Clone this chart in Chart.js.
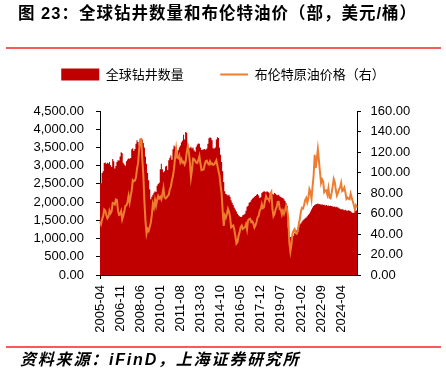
<!DOCTYPE html>
<html><head><meta charset="utf-8">
<script src="https://cdn.jsdelivr.net/npm/chart.js@4.4.1/dist/chart.umd.min.js"></script>
<style>
html,body{margin:0;padding:0;background:#fff;}
#wrap{position:relative;width:446px;height:375px;overflow:hidden;background:#fff;}
#c{position:absolute;left:0;top:0;}
.rule{position:absolute;left:6px;width:435px;height:2px;background:#f25c5c;}
#title{position:absolute;left:18px;top:3px;font-weight:bold;font-size:16.5px;line-height:20px;font-family:"Liberation Sans","Noto Sans CJK SC",sans-serif;letter-spacing:1px;white-space:nowrap;color:#000;}
#src{position:absolute;left:20px;top:350px;font-weight:bold;font-style:italic;font-size:16px;line-height:20px;font-family:"Liberation Sans","Noto Sans CJK SC",sans-serif;letter-spacing:1.8px;white-space:nowrap;color:#000;}
</style></head>
<body><div id="wrap"><canvas id="c" width="446" height="375"></canvas>
<div id="title">图 23：全球钻井数量和布伦特油价（部，美元/桶）</div>
<div class="rule" style="top:47px"></div>
<div class="rule" style="top:346px"></div>
<div id="src">资料来源：iFinD，上海证券研究所</div>
</div>
<script>
// ---- data ----
const startYear = 2005, startMonth = 4;
const xTickLabels = ['2005-04','2006-11','2008-06','2010-01','2011-08','2013-03','2014-10','2016-05','2017-12','2019-07','2021-02','2022-09','2024-04'];
const leftTicks = [0,500,1000,1500,2000,2500,3000,3500,4000,4500];
const rightTicks = [0,20,40,60,80,100,120,140,160];
const rigCount = [
2540,2520,2800,2850,3070,3090,3050,3080,3060,3100,3010,2960,3180,3120,2920,2990,3100,3150,3140,3250,
3370,3340,3080,3030,3000,3120,3170,3200,3190,3210,3450,3480,3400,3460,3600,3700,3650,3560,3700,3740,
3720,3620,3500,3250,3050,2800,2600,2350,2080,2150,2200,2260,2300,2280,2450,2500,2530,2900,3050,2900,
2820,2850,2980,3000,2880,3150,3220,3280,3160,3450,3555,3520,3330,3310,3420,3500,3550,3640,3690,3850,
3720,3925,3900,3600,3470,3490,3520,3470,3500,3420,3380,3520,3580,3610,3600,3500,3430,3440,3450,3460,
3440,3470,3600,3750,3780,3760,3700,3480,3470,3500,3720,3780,3760,3500,3300,3100,2850,2550,2300,2220,
2210,2180,2200,2150,2050,1980,1920,1850,1800,1740,1680,1640,1610,1590,1600,1640,1650,1680,1760,1870,
1900,1980,2000,2050,2090,2120,2150,2170,2200,2220,2180,2110,2130,2250,2280,2300,2290,2270,2300,2280,
2250,2230,2200,2220,2210,2250,2230,2200,2190,2200,2160,2140,2120,2110,2080,2030,1970,1900,1300,1080,
1040,1050,1070,1080,1150,1190,1230,1280,1330,1390,1420,1470,1500,1530,1560,1580,1610,1650,1690,1740,
1800,1850,1890,1920,1940,1950,1960,1940,1950,1930,1940,1920,1930,1910,1920,1900,1910,1890,1900,1890,
1880,1870,1880,1860,1870,1850,1830,1820,1800,1810,1790,1780,1790,1770,1760,1780,1760,1750,1720,1700,
1710,1760,1780,1770];
const brent = [
52.0,49.6,54.3,57.5,63.9,62.8,58.5,55.2,56.9,
62.9,60.2,62.3,70.4,70.0,68.9,73.7,73.2,62.8,58.6,59.2,62.3,
54.3,57.8,62.1,67.5,67.9,71.3,77.2,70.8,77.2,82.4,92.5,91.5,
92.2,95.0,103.7,109.1,122.8,132.3,132.7,113.2,97.2,71.6,52.5,40.4,
44.9,43.1,46.8,50.8,58.6,69.3,65.8,73.1,67.7,73.2,77.0,74.7,
76.2,73.8,78.8,84.8,75.9,74.8,75.6,77.1,78.2,83.5,86.1,92.4,
96.5,103.7,114.6,123.3,114.5,113.9,116.7,110.1,112.8,109.6,110.5,107.9,
110.7,119.3,125.5,119.8,110.3,95.2,102.6,113.4,113.0,111.5,109.5,109.2,
112.3,116.1,108.5,102.3,102.6,102.9,107.7,111.0,111.6,109.1,107.8,110.8,
108.1,108.9,107.5,107.8,109.7,111.9,106.8,101.6,97.1,87.4,79.4,62.3,
47.8,58.1,55.9,59.5,64.6,61.7,56.5,46.5,47.6,48.4,44.3,38.0,
30.7,32.2,38.2,41.6,46.7,48.3,44.9,45.8,46.6,49.5,44.5,53.3,
54.6,54.9,51.6,52.3,50.3,46.4,48.5,51.7,56.2,57.5,62.7,64.4,
69.1,65.3,66.0,72.1,76.9,74.4,74.3,72.5,78.9,81.0,64.8,57.4,
59.4,63.9,66.1,71.2,71.3,64.2,63.9,59.0,62.8,59.7,63.2,67.3,
63.7,55.5,32.0,23.0,29.4,40.3,43.2,44.7,40.9,40.2,42.7,49.9,
54.8,62.3,65.4,64.8,68.5,73.2,75.2,70.8,74.5,83.7,81.1,74.2,
86.5,97.1,117.3,104.6,113.3,122.7,111.9,100.5,89.8,93.3,91.4,80.9,
82.5,82.6,78.4,84.6,75.5,74.8,80.1,86.2,93.7,90.6,82.9,77.6,
80.1,83.5,85.4,89.9,81.8,82.6,85.3,80.9,74.3,75.6,74.4,73.9,
79.3,75.2,72.0,68.0,64.0,68.0,66.0];
const months = [];
for (let i = 0; i < rigCount.length; i++) {
  const m = startMonth - 1 + i;
  const y = startYear + Math.floor(m / 12);
  const mm = (m % 12) + 1;
  months.push(y + '-' + (mm < 10 ? '0' + mm : '' + mm));
}

// ---- styling ----
const RED = '#C00000', ORANGE = '#ED7D31';
const tickFont = {family: '"Liberation Sans", Arial, sans-serif', size: 13};
const lineIcon = document.createElement('canvas');
lineIcon.width = 38; lineIcon.height = 12;
(function(){ const g = lineIcon.getContext('2d'); g.strokeStyle = ORANGE; g.lineWidth = 2; g.beginPath(); g.moveTo(10, 6); g.lineTo(38, 6); g.stroke(); })();

const isLabelIdx = i => xTickLabels.indexOf(months[i]) >= 0;

// legend needs extra space below it (reference gap between legend and plot)
const legendGap = {
  id: 'legendGap',
  beforeLayout(chart) {
    const lg = chart.legend;
    if (lg && !lg._gapPatched) {
      const f = lg.fit;
      lg.fit = function() { f.call(this); this.height += 20; };
      lg._gapPatched = true;
    }
  }
};

new Chart(document.getElementById('c'), {
  type: 'line',
  data: {
    labels: months,
    datasets: [
      {label: '全球钻井数量', data: rigCount, yAxisID: 'y', order: 2,
       fill: 'origin', backgroundColor: RED, borderColor: 'rgba(0,0,0,0)', borderWidth: 0,
       pointRadius: 0, pointStyle: 'rect', tension: 0, stepped: 'middle'},
      {label: '布伦特原油价格（右）', data: brent, yAxisID: 'y1', order: 1,
       fill: false, borderColor: ORANGE, backgroundColor: ORANGE, borderWidth: 2,
       pointRadius: 0, pointStyle: lineIcon, tension: 0}
    ]
  },
  plugins: [legendGap],
  options: {
    responsive: false, animation: false, devicePixelRatio: 1,
    layout: {padding: {top: 41.5, left: 0, right: 0, bottom: 0}},
    plugins: {
      tooltip: {enabled: false},
      legend: {
        display: true, position: 'top',
        labels: {
          usePointStyle: true, pointStyleWidth: 38, boxHeight: 12, padding: 26.5,
          color: '#000', font: {family: '"Noto Sans CJK SC", sans-serif', size: 13},
          sort: (a, b) => a.datasetIndex - b.datasetIndex
        }
      }
    },
    scales: {
      x: {
        type: 'category', offset: false,
        grid: {drawOnChartArea: false, drawTicks: true, tickLength: 4,
               color: c => isLabelIdx(c.index) ? '#000' : 'rgba(0,0,0,0)'},
        border: {display: true, color: '#000', width: 1},
        ticks: {autoSkip: false, minRotation: 90, maxRotation: 90, padding: 6, color: '#000', font: tickFont,
                callback: (v, i) => isLabelIdx(i) ? months[i] : null},
        afterFit: s => { s.height = 100; }
      },
      y: {
        position: 'left', min: 0, max: 4500,
        afterBuildTicks: s => { s.ticks = leftTicks.map(v => ({value: v})); },
        grid: {drawOnChartArea: false, drawTicks: true, tickLength: 4, color: '#000'},
        border: {display: true, color: '#000', width: 1},
        ticks: {autoSkip: false, padding: 12, color: '#000', font: tickFont,
                callback: v => Number(v).toLocaleString('en-US', {minimumFractionDigits: 2, maximumFractionDigits: 2})},
        afterFit: s => { s.width = 100; }
      },
      y1: {
        position: 'right', min: 0, max: 160,
        afterBuildTicks: s => { s.ticks = rightTicks.map(v => ({value: v})); },
        grid: {drawOnChartArea: false, drawTicks: true, tickLength: 4, color: '#000'},
        border: {display: true, color: '#000', width: 1},
        ticks: {autoSkip: false, padding: 9.5, color: '#000', font: tickFont, callback: v => Number(v).toFixed(2)},
        afterFit: s => { s.width = 89; }
      }
    }
  }
});
</script>
</body></html>
